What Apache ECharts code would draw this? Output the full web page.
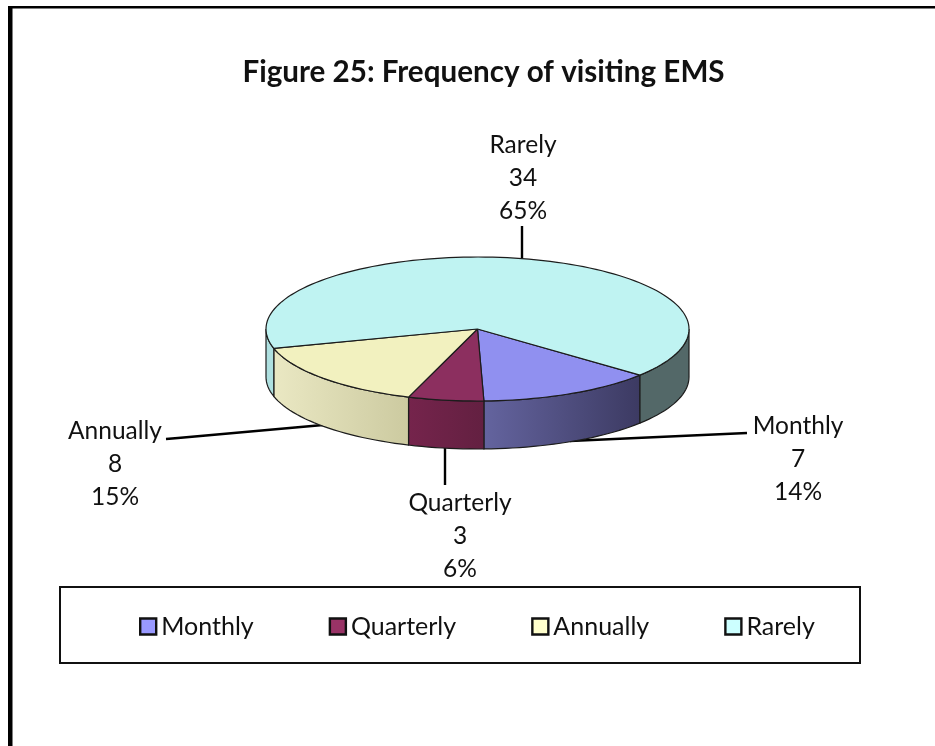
<!DOCTYPE html>
<html><head><meta charset="utf-8">
<style>html,body{margin:0;padding:0;background:#fff}#c{width:935px;height:746px}</style>
<script src="https://cdn.jsdelivr.net/npm/echarts@6/dist/echarts.min.js"></script>
</head><body><div id="c"></div>
<script>
// Data
const categories = ['Monthly', 'Quarterly', 'Annually', 'Rarely'];
const counts = [7, 3, 8, 34];
const percents = [14, 6, 15, 65];

// Style
const FONT = 'Lato';
const topColors = ['#9090F0', '#8C2F5F', '#F2F1BF', '#BFF3F2'];
const legendColors = ['#9999FF', '#993366', '#FFFFCC', '#CCFFFF'];
const wallColors = [
  [['#64649F', '#3C3A62']],
  [['#75244C', '#632041']],
  [['#EAE8C3', '#CCCAA0']],
  [['#AEE0E0', '#AEE0E0'], ['#536868', '#536868']]
];

// Layout of the pseudo-3D pie
const pie = {cx: 477.5, cy: 329, rx: 211.5, ry: 72, depth: 48, start: 39.8};
const labelPos = [[798, 459], [460, 536], [115, 464], [523, 178]];
const leaders = [
  [[747, 433], [570, 441]],
  [[445, 485], [445, 440]],
  [[166, 439], [178, 438], [323, 425]],
  [[522, 226], [522, 262]]
];

const total = counts.reduce((a, b) => a + b, 0);
const spans = [];
counts.reduce((acc, v) => {
  const sweep = v / total * 360;
  spans.push([acc, acc + sweep]);
  return acc + sweep;
}, pie.start);

const pt = (deg, dy) => {
  const r = deg * Math.PI / 180;
  return [pie.cx + pie.rx * Math.cos(r), pie.cy + pie.ry * Math.sin(r) + (dy || 0)];
};
const arc = (a0, a1, dy) => {
  const n = Math.max(2, Math.ceil(Math.abs(a1 - a0) / 2));
  const out = [];
  for (let i = 0; i <= n; i++) out.push(pt(a0 + (a1 - a0) * i / n, dy));
  return out;
};
const frontPieces = (a0, a1) => {
  const out = [];
  [[0, 180], [360, 540]].forEach(([l, h]) => {
    const s = Math.max(a0, l), e = Math.min(a1, h);
    if (e > s) out.push([s, e]);
  });
  return out;
};

const wedgeSeries = categories.map((name, i) => ({
  type: 'custom',
  name,
  coordinateSystem: 'none',
  z: 3,
  silent: true,
  itemStyle: {color: legendColors[i]},
  data: [[counts[i]]],
  renderItem() {
    const [a0, a1] = spans[i];
    const stroke = '#1c1c1c';
    const children = [];
    frontPieces(a0, a1).forEach((p, k) => {
      const cols = wallColors[i][k] || wallColors[i][0];
      const top = arc(p[0], p[1], 0);
      const bot = arc(p[1], p[0], pie.depth);
      children.push({
        type: 'polygon',
        shape: {points: top.concat(bot)},
        style: {
          fill: {type: 'linear', x: 0, y: 0, x2: 1, y2: 0, colorStops: [
            {offset: 0, color: cols[0]}, {offset: 1, color: cols[1]}]},
          stroke, lineWidth: 1.2
        }
      });
    });
    children.push({
      type: 'polygon',
      shape: {points: [[pie.cx, pie.cy]].concat(arc(a0, a1, 0))},
      style: {fill: topColors[i], stroke, lineWidth: 1.2}
    });
    return {type: 'group', children};
  }
}));

const leaderSeries = {
  type: 'custom',
  name: 'leaders',
  coordinateSystem: 'none',
  z: 2,
  silent: true,
  data: categories.map((c, i) => [i]),
  renderItem(params) {
    const i = params.dataIndex;
    return {
      type: 'polyline',
      shape: {points: leaders[i]},
      style: {fill: 'none', stroke: '#000', lineWidth: 2.4}
    };
  }
};

const labelSeries = {
  type: 'custom',
  name: 'labels',
  coordinateSystem: 'none',
  z: 4,
  silent: true,
  data: categories.map((c, i) => [i]),
  renderItem(params) {
    const i = params.dataIndex;
    return {
      type: 'text',
      x: labelPos[i][0],
      y: labelPos[i][1],
      style: {
        text: categories[i] + '\n' + counts[i] + '\n' + percents[i] + '%',
        fill: '#111',
        font: '24.5px ' + FONT,
        lineHeight: 33,
        align: 'center',
        verticalAlign: 'middle'
      }
    };
  }
};

const chart = echarts.init(document.getElementById('c'), null, {renderer: 'canvas'});
chart.setOption({
  animation: false,
  backgroundColor: '#fff',
  title: {
    text: 'Figure 25: Frequency of visiting EMS',
    left: 478.5,
    top: 52,
    textAlign: 'center',
    textStyle: {fontFamily: FONT, fontWeight: 'bold', fontSize: 29.6, color: '#111'}
  },
  legend: {
    data: categories,
    left: 139,
    top: 614,
    padding: 0,
    itemGap: 75,
    itemWidth: 16,
    itemHeight: 16,
    icon: 'rect',
    itemStyle: {borderColor: '#111', borderWidth: 2.4},
    selectedMode: false,
    textStyle: {fontFamily: FONT, fontSize: 25, color: '#111'}
  },
  graphic: [
    {type: 'rect', silent: true, z: 0, shape: {x: 8, y: 6, width: 4.5, height: 740}, style: {fill: '#000'}},
    {type: 'rect', silent: true, z: 0, shape: {x: 8, y: 6, width: 927, height: 2.6}, style: {fill: '#000'}},
    {type: 'rect', silent: true, z: 0, shape: {x: 60, y: 587, width: 800, height: 76},
      style: {fill: '#fff', stroke: '#111', lineWidth: 2}}
  ],
  series: [leaderSeries].concat(wedgeSeries, [labelSeries])
});
</script></body></html>
